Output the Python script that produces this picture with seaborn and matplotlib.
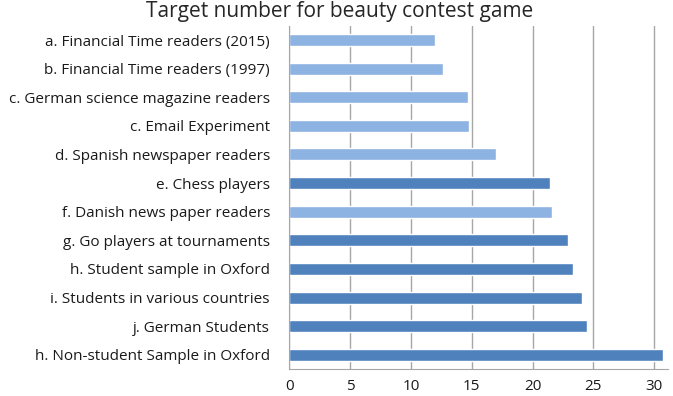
import numpy as np
import pandas as pd
import seaborn as sns
import matplotlib
matplotlib.use("Agg")
import matplotlib.pyplot as plt

# data
groups = ["a. Financial Time readers (2015)",
          "b. Financial Time readers (1997)",
          "c. German science magazine readers",
          "c. Email Experiment",
          "d. Spanish newspaper readers",
          "e. Chess players",
          "f. Danish news paper readers",
          "g. Go players at tournaments",
          "h. Student sample in Oxford",
          "i. Students in various countries",
          "j. German Students",
          "h. Non-student Sample in Oxford"]
target = [12.0, 12.6, 14.7, 14.8, 17.0, 21.4, 21.6, 22.9, 23.3, 24.1, 24.5, 30.7]
kind = ["light", "light", "light", "light", "light", "dark",
        "light", "dark", "dark", "dark", "dark", "dark"]
x_ticks = [0, 5, 10, 15, 20, 25, 30]

df = pd.DataFrame({"group": groups, "target": target, "kind": kind})

sns.set_style("white")
plt.rcParams['font.family'] = ['Open Sans', 'DejaVu Sans']

fig, ax = plt.subplots(figsize=(6.73, 3.96), dpi=100)
sns.barplot(data=df, x="target", y="group", hue="kind",
            palette={"light": "#8DB3E2", "dark": "#4F81BD"},
            dodge=False, width=0.42, legend=False, ax=ax, saturation=1)

ax.set_xlim(0, 31.1)
ax.set_ylim(11.5, -0.5)
ax.set_xticks(x_ticks)
ax.set_xlabel("")
ax.set_ylabel("")
ax.xaxis.grid(True, color="#A6A6A6", linewidth=1)
ax.set_axisbelow(True)
for s in ["top", "right"]:
    ax.spines[s].set_visible(False)
for s in ["left", "bottom"]:
    ax.spines[s].set_color("#A6A6A6")
ax.tick_params(axis="y", length=0, labelsize=11, labelcolor="#1a1a1a", pad=14)
ax.tick_params(axis="x", length=4, color="#A6A6A6", labelsize=11, labelcolor="#1a1a1a")
# category boundary ticks on the left axis, like the original
ax.set_yticks(np.arange(-0.5, 12, 1), minor=True)
ax.tick_params(axis="y", which="minor", length=4, color="#A6A6A6", direction="out")

fig.suptitle("Target number for beauty contest game", fontsize=15, x=0.505, y=0.997)
fig.subplots_adjust(left=0.43, right=0.992, top=0.935, bottom=0.068)
fig.savefig("out.png", dpi=100)
